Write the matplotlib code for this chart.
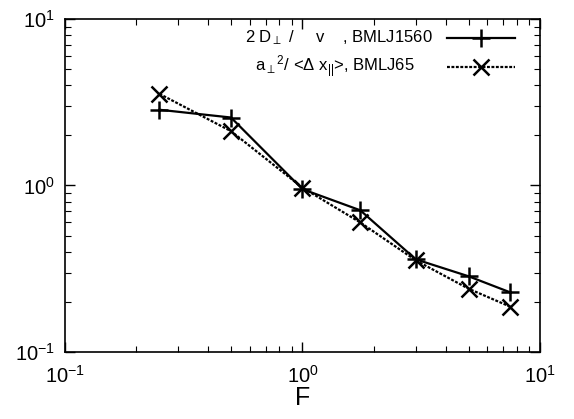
import matplotlib
matplotlib.use("Agg")
import matplotlib.pyplot as plt
from matplotlib.lines import Line2D
from matplotlib.ticker import LogLocator, NullFormatter

# ------------------------
# data
# ------------------------
force = [0.25, 0.5, 1.0, 1.75, 3.0, 5.0, 7.5]
diff_ratio = [2.85, 2.56, 0.95, 0.71, 0.36, 0.285, 0.228]      # 2 D_perp / v, BMLJ1560
step_ratio = [3.55, 2.12, 0.97, 0.60, 0.355, 0.24, 0.187]      # a_perp^2 / <dx_par>, BMLJ65

label_1 = r"2 D$_\perp$ /     v    , BMLJ1560"
label_2 = r"a$_\perp$$^2$/ <Δ x$_{||}$>, BMLJ65"

plt.rcParams["font.family"] = ["Liberation Sans", "DejaVu Sans"]
plt.rcParams["mathtext.fontset"] = "custom"
plt.rcParams["mathtext.rm"] = "Liberation Sans"
plt.rcParams["mathtext.it"] = "Liberation Sans"

fig = plt.figure(figsize=(5.74, 4.19), dpi=100)
ax = fig.add_axes([0.1132, 0.1599, 0.8276, 0.7948])

ax.plot(force, diff_ratio, color="black", lw=1.6, marker="+", ms=13, mew=1.8)
ax.plot(force, step_ratio, color="black", lw=1.6, ls=(0, (1.3, 0.7)), marker="x", ms=11, mew=1.8)

ax.set_xscale("log")
ax.set_yscale("log")
ax.set_xlim(0.1, 10)
ax.set_ylim(0.1, 10)

for axis in (ax.xaxis, ax.yaxis):
    axis.set_major_locator(LogLocator(base=10, numticks=10))
    axis.set_minor_locator(LogLocator(base=10, subs=range(2, 10), numticks=10))
    axis.set_minor_formatter(NullFormatter())

ax.tick_params(which="both", direction="in", top=True, right=True, labelsize=14.5)
ax.tick_params(which="major", length=7, width=1)
ax.tick_params(which="minor", length=4, width=0.8)
ax.tick_params(axis="x", pad=9)
ax.tick_params(axis="y", pad=7)
for s in ax.spines.values():
    s.set_linewidth(1.2)

ax.set_xlabel("F", fontsize=18, labelpad=0)

# gnuplot-style key: right-aligned text, sample to the right
ax.text(0.775, 0.945, label_1, transform=ax.transAxes, ha="right", va="center", fontsize=12)
ax.text(0.737, 0.858, label_2, transform=ax.transAxes, ha="right", va="center", fontsize=12)
ax.add_line(Line2D([0.804, 0.947], [0.943, 0.943], transform=ax.transAxes, color="black", lw=1.6))
ax.add_line(Line2D([0.876], [0.943], transform=ax.transAxes, color="black", marker="+", ms=13, mew=1.8))
ax.add_line(Line2D([0.804, 0.947], [0.856, 0.856], transform=ax.transAxes, color="black", lw=1.6,
                   ls=(0, (1.3, 0.7))))
ax.add_line(Line2D([0.876], [0.856], transform=ax.transAxes, color="black", marker="x", ms=11, mew=1.8))

fig.savefig("out.png", dpi=100)
